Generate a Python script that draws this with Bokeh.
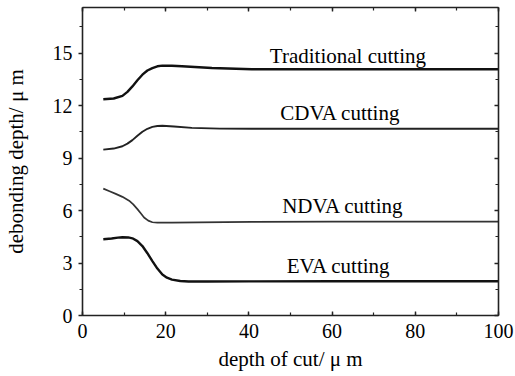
from bokeh.plotting import figure
from bokeh.models import LinearAxis, SingleIntervalTicker, Range1d
from bokeh.embed import file_html
from bokeh.resources import INLINE
from bokeh.core.properties import value

# ---- data ----
trad_x = [5, 7.5, 9.6, 10.8, 12, 13.2, 14.4, 15.6, 16.8, 18, 19.2, 21.5, 23.9, 31.1, 40.7, 60, 80, 100]
trad_y = [12.36, 12.40, 12.55, 12.78, 13.09, 13.44, 13.76, 14.00, 14.14, 14.24, 14.28, 14.27, 14.24, 14.14, 14.07, 14.07, 14.07, 14.07]

cdva_x = [5, 7.5, 9.6, 10.8, 12, 13.2, 14.4, 15.6, 16.8, 18, 19.2, 22, 26.3, 33, 40.7, 60, 80, 100]
cdva_y = [9.48, 9.54, 9.67, 9.82, 10.02, 10.27, 10.50, 10.67, 10.78, 10.83, 10.84, 10.80, 10.72, 10.68, 10.67, 10.67, 10.67, 10.67]

ndva_x = [5, 6.5, 8, 9.6, 11.2, 12.2, 13.2, 14.0, 14.8, 15.8, 16.8, 18, 21.5, 40.7, 60, 80, 100]
ndva_y = [7.25, 7.10, 6.95, 6.78, 6.56, 6.35, 6.08, 5.84, 5.60, 5.42, 5.33, 5.31, 5.31, 5.35, 5.36, 5.36, 5.36]

eva_x = [5, 7, 8.5, 9.6, 11, 12, 13.2, 14.4, 15.6, 16.8, 18, 19.2, 20.3, 21.5, 23.5, 25.5, 30, 40, 60, 80, 100]
eva_y = [4.36, 4.40, 4.45, 4.47, 4.46, 4.41, 4.25, 3.97, 3.56, 3.11, 2.68, 2.34, 2.16, 2.05, 1.97, 1.94, 1.94, 1.95, 1.96, 1.96, 1.96]

label_text = ["Traditional cutting", "CDVA cutting", "NDVA cutting", "EVA cutting"]
label_x = [63.8, 62.0, 62.6, 61.6]
label_y = [14.85, 11.55, 6.27, 2.82]

x_title = "depth of cut/ \u03bc m"
y_title = "debonding depth/ \u03bc m"

FONT = "'Liberation Serif', serif"

p = figure(width=515, height=376, x_range=Range1d(0, 100), y_range=Range1d(0, 17.6),
           output_backend="svg", toolbar_location=None,
           min_border_left=80, min_border_right=17, min_border_top=7, min_border_bottom=61,
           x_axis_label=x_title, y_axis_label=y_title)
p.grid.visible = False
p.outline_line_color = None
p.background_fill_color = "white"
p.border_fill_color = "white"

p.line(trad_x, trad_y, line_color="#111111", line_width=2.4)
p.line(cdva_x, cdva_y, line_color="#222222", line_width=1.9)
p.line(ndva_x, ndva_y, line_color="#333333", line_width=1.7)
p.line(eva_x, eva_y, line_color="#111111", line_width=2.4)

p.text(x=label_x, y=label_y, text=label_text, text_font=value(FONT), text_font_size="21px",
       text_align="center", text_baseline="middle", text_color="black")

xt = SingleIntervalTicker(interval=20, num_minor_ticks=2)
yt = SingleIntervalTicker(interval=3, num_minor_ticks=2)

xa = p.xaxis[0]
xa.ticker = xt
xa.major_tick_in = 4
xa.major_tick_out = 0
xa.minor_tick_in = 3
xa.minor_tick_out = 0
xa.major_label_standoff = 8
xa.axis_label_standoff = 6

ya = p.yaxis[0]
ya.ticker = yt
ya.major_tick_in = 0
ya.major_tick_out = 4
ya.minor_tick_in = 0
ya.minor_tick_out = 3
ya.major_label_standoff = 6
ya.axis_label_standoff = 22

for ax in (xa, ya):
    ax.axis_line_width = 1.6
    ax.axis_line_color = "#222222"
    ax.major_tick_line_color = "#222222"
    ax.minor_tick_line_color = "#222222"
    ax.major_tick_line_width = 1.4
    ax.minor_tick_line_width = 1.2
    ax.major_label_text_font = FONT
    ax.major_label_text_font_size = "20px"
    ax.major_label_text_color = "black"
    ax.axis_label_text_font = FONT
    ax.axis_label_text_font_size = "21px"
    ax.axis_label_text_font_style = "normal"
    ax.axis_label_text_color = "black"

top = LinearAxis(ticker=SingleIntervalTicker(interval=20, num_minor_ticks=2))
right = LinearAxis(ticker=SingleIntervalTicker(interval=3, num_minor_ticks=2))
for ax in (top, right):
    ax.major_label_text_font_size = "1px"
    ax.major_label_text_color = None
    ax.major_label_standoff = 0
    ax.major_tick_in = 4
    ax.major_tick_out = 0
    ax.minor_tick_in = 3
    ax.minor_tick_out = 0
    ax.axis_line_width = 1.6
    ax.axis_line_color = "#222222"
    ax.major_tick_line_color = "#222222"
    ax.minor_tick_line_color = "#222222"
    ax.major_tick_line_width = 1.4
    ax.minor_tick_line_width = 1.2
p.add_layout(top, "above")
p.add_layout(right, "right")

open("out.html", "w").write(file_html(p, INLINE))
